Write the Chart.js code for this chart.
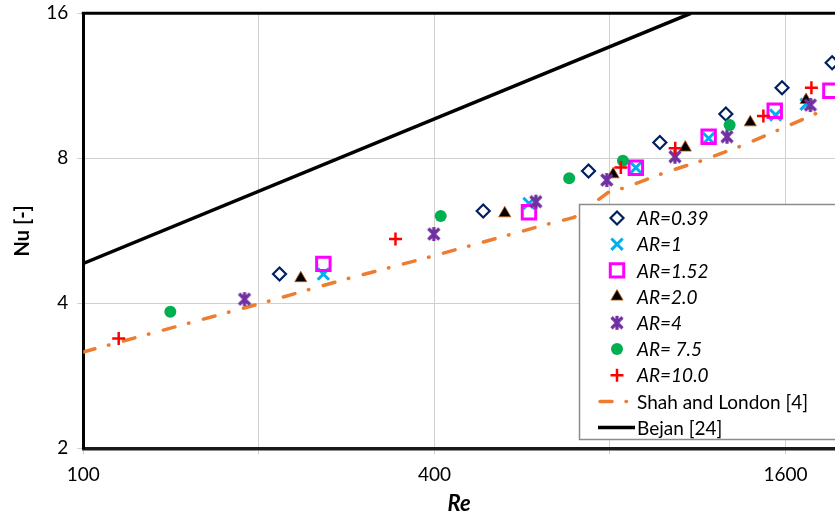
<!DOCTYPE html>
<html lang="en">
<head>
    <meta charset="utf-8"/>
    <title>Nu vs Re</title>
    <script src="https://cdn.jsdelivr.net/npm/chart.js"></script>
    <style>
        html, body { margin: 0; padding: 0; background: #fff; }
        #wrap { width: 835px; height: 517px; }
    </style>
</head>
<body>
<div id="wrap">
    <canvas id="nuChart" width="835" height="517"></canvas>
</div>
<script>
// Measured Nusselt numbers for each aspect ratio
const re039 = [217, 485, 735, 974, 1264, 1578, 1923];
const nu039 = [4.60, 6.22, 7.53, 8.63, 9.89, 11.21, 12.63];

const re1 = [258, 581, 886, 1181, 1539, 1735];
const nu1 = [4.60, 6.45, 7.65, 8.80, 9.84, 10.36];

const re152 = [258, 581, 886, 1181, 1533, 1910];
const nu152 = [4.83, 6.18, 7.65, 8.87, 10.04, 11.05];

const re20 = [236, 528, 810, 1077, 1392, 1735];
const nu20 = [4.51, 6.15, 7.41, 8.42, 9.50, 10.57];

const re4 = [189, 399, 597, 790, 1034, 1270, 1765];
const nu4 = [4.08, 5.57, 6.50, 7.21, 8.06, 8.87, 10.32];

const re75 = [141, 410, 681, 842, 1283];
const nu75 = [3.84, 6.07, 7.27, 7.91, 9.38];

const re10 = [115, 343, 835, 1035, 1466, 1772];
const nu10 = [3.38, 5.44, 7.66, 8.39, 9.79, 11.21];

// Correlations
const reShah = [100, 202, 278, 385, 532, 625, 694, 803, 842, 990, 1153, 1351, 1572, 1836];
const nuShah = [3.17, 4.00, 4.47, 4.96, 5.53, 5.84, 6.03, 6.86, 6.93, 7.46, 7.92, 8.51, 9.21, 10.0];

const reBejan = [100, 1101];
const nuBejan = [4.84, 16];

// Axis ticks
const xTicks = [100, 200, 400, 800, 1600];
const xTickLabels = ['100', '', '400', '', '1600'];
const yTicks = [2, 4, 8, 16];

const FONT = 'Lato';

function pts(xs, ys) {
    return xs.map((x, i) => ({ x: x, y: ys[i] }));
}

// Excel style asterisk marker: an X with a vertical bar
function makeStar(color) {
    const c = document.createElement('canvas');
    c.width = 18; c.height = 18;
    const g = c.getContext('2d');
    g.strokeStyle = color;
    g.lineWidth = 3.2;
    g.lineCap = 'butt';
    g.beginPath();
    g.moveTo(3.5, 3.5); g.lineTo(14.5, 14.5);
    g.moveTo(14.5, 3.5); g.lineTo(3.5, 14.5);
    g.moveTo(9, 2); g.lineTo(9, 16);
    g.stroke();
    return c;
}
const starImg = makeStar('#7030A0');

function scatterSet(label, data, style, order) {
    return Object.assign({
        label: label,
        data: data,
        showLine: false,
        order: order
    }, style);
}

const datasets = [
    scatterSet('AR=0.39', pts(re039, nu039), {
        pointStyle: 'rectRot', pointRadius: 6.5, borderColor: '#002060',
        backgroundColor: '#ffffff', pointBorderWidth: 2.2
    }, 8),
    scatterSet('AR=1', pts(re1, nu1), {
        pointStyle: 'crossRot', pointRadius: 8, borderColor: '#00B0F0',
        backgroundColor: '#00B0F0', pointBorderWidth: 3
    }, 7),
    scatterSet('AR=1.52', pts(re152, nu152), {
        pointStyle: 'rect', pointRadius: 9.5, borderColor: '#FF00FF',
        backgroundColor: 'rgba(255,255,255,0)', pointBorderWidth: 3
    }, 6),
    scatterSet('AR=2.0', pts(re20, nu20), {
        pointStyle: 'triangle', pointRadius: 7, borderColor: '#C55A11',
        backgroundColor: '#000000', pointBorderWidth: 0.8
    }, 5),
    scatterSet('AR=4', pts(re4, nu4), {
        pointStyle: starImg, pointRadius: 9, borderColor: '#7030A0',
        backgroundColor: '#7030A0', pointBorderWidth: 3
    }, 4),
    scatterSet('AR= 7.5', pts(re75, nu75), {
        pointStyle: 'circle', pointRadius: 6, borderColor: '#00B050',
        backgroundColor: '#00B050', pointBorderWidth: 0
    }, 3),
    scatterSet('AR=10.0', pts(re10, nu10), {
        pointStyle: 'cross', pointRadius: 6.5, borderColor: '#FF0000',
        backgroundColor: '#FF0000', pointBorderWidth: 2.5
    }, 2),
    {
        label: 'Shah and London [4]',
        data: pts(reShah, nuShah),
        showLine: true,
        borderColor: '#ED7D31',
        borderWidth: 3.5,
        borderDash: [12, 14, 0.5, 15],
        borderCapStyle: 'round',
        pointRadius: 0,
        tension: 0,
        order: 10
    },
    {
        label: 'Bejan [24]',
        data: pts(reBejan, nuBejan),
        showLine: true,
        borderColor: '#000000',
        borderWidth: 3.5,
        pointRadius: 0,
        tension: 0,
        order: 9
    }
];

// no extra room for overhanging tick labels, the axis boxes are fixed
function noLabelPadding(s) {
    s.paddingLeft = 0;
    s.paddingRight = 0;
    s.paddingTop = 0;
    s.paddingBottom = 0;
}

// Legend box inside the plot plus the top frame line
const framePlugin = {
    id: 'frame',
    afterDatasetsDraw(chart) {
        const ctx = chart.ctx;
        const area = chart.chartArea;
        ctx.save();

        // top border of the plot area
        ctx.strokeStyle = '#000';
        ctx.lineWidth = 3;
        ctx.beginPath();
        ctx.moveTo(area.left - 1.5, area.top);
        ctx.lineTo(area.right, area.top);
        ctx.stroke();

        // legend
        const bx = 579.5, by = 204.5, bh = 235;
        ctx.fillStyle = '#fff';
        ctx.fillRect(bx, by, 835 - bx + 5, bh);
        ctx.strokeStyle = '#8c8c8c';
        ctx.lineWidth = 1.5;
        ctx.strokeRect(bx, by, 835 - bx + 10, bh);

        const mx = 617, tx = 637, y0 = 218, step = 26.2;
        ctx.textBaseline = 'middle';
        ctx.textAlign = 'left';
        chart.data.datasets.forEach((ds, i) => {
            const y = y0 + i * step;
            ctx.save();
            if (ds.showLine) {
                ctx.strokeStyle = ds.borderColor;
                ctx.lineWidth = ds.borderWidth;
                ctx.lineCap = ds.borderCapStyle || 'butt';
                ctx.setLineDash(ds.borderDash || []);
                ctx.beginPath();
                ctx.moveTo(ds.borderDash ? 600 : 598, y);
                ctx.lineTo(ds.borderDash ? 634 : 635, y);
                ctx.stroke();
            } else if (Chart.helpers && Chart.helpers.drawPoint) {
                ctx.strokeStyle = ds.borderColor;
                ctx.fillStyle = ds.backgroundColor;
                ctx.lineWidth = ds.pointBorderWidth;
                Chart.helpers.drawPoint(ctx, {
                    pointStyle: ds.pointStyle,
                    radius: ds.pointRadius,
                    borderWidth: ds.pointBorderWidth,
                    rotation: 0
                }, mx, y);
            }
            ctx.restore();
            ctx.fillStyle = '#000';
            ctx.font = (ds.showLine ? '' : 'italic ') + '19px ' + FONT;
            ctx.fillText(ds.label, tx, y + 1);
        });
        ctx.restore();
    }
};

new Chart(document.getElementById('nuChart'), {
    type: 'scatter',
    data: { datasets: datasets },
    options: {
        responsive: false,
        animation: false,
        devicePixelRatio: 1,
        layout: {
            autoPadding: false,
            padding: { top: 13.3, right: 0, left: 0, bottom: 0 }
        },
        plugins: {
            legend: { display: false },
            tooltip: { enabled: false }
        },
        scales: {
            x: {
                type: 'logarithmic',
                min: 100,
                max: 1945,
                afterBuildTicks: (s) => { s.ticks = xTicks.map(v => ({ value: v })); },
                afterFit: (s) => { s.height = 68.7; noLabelPadding(s); },
                ticks: {
                    autoSkip: false,
                    maxRotation: 0,
                    padding: 9,
                    color: '#000',
                    font: { family: FONT, size: 19 },
                    callback: (v) => xTickLabels[xTicks.indexOf(v)] || ''
                },
                grid: { color: '#d0d0d0', lineWidth: 1, tickLength: 6 },
                border: { color: '#1a1a1a', width: 3.5 },
                title: {
                    display: true,
                    text: 'Re',
                    color: '#000',
                    padding: { top: 0, bottom: 0 },
                    font: { family: FONT, size: 22, weight: 'bold', style: 'italic' }
                }
            },
            y: {
                type: 'logarithmic',
                min: 2,
                max: 16,
                afterBuildTicks: (s) => { s.ticks = yTicks.map(v => ({ value: v })); },
                afterFit: (s) => { s.width = 83.3; noLabelPadding(s); },
                ticks: {
                    padding: 9,
                    color: '#000',
                    font: { family: FONT, size: 19 },
                    callback: (v) => String(v)
                },
                grid: { color: '#d0d0d0', lineWidth: 1, tickLength: 6 },
                border: { color: '#000', width: 3 },
                title: {
                    display: true,
                    text: 'Nu [-]',
                    color: '#000',
                    padding: { top: 11, bottom: 0 },
                    font: { family: FONT, size: 20, weight: 'bold' }
                }
            }
        }
    },
    plugins: [framePlugin]
});
</script>
</body>
</html>
